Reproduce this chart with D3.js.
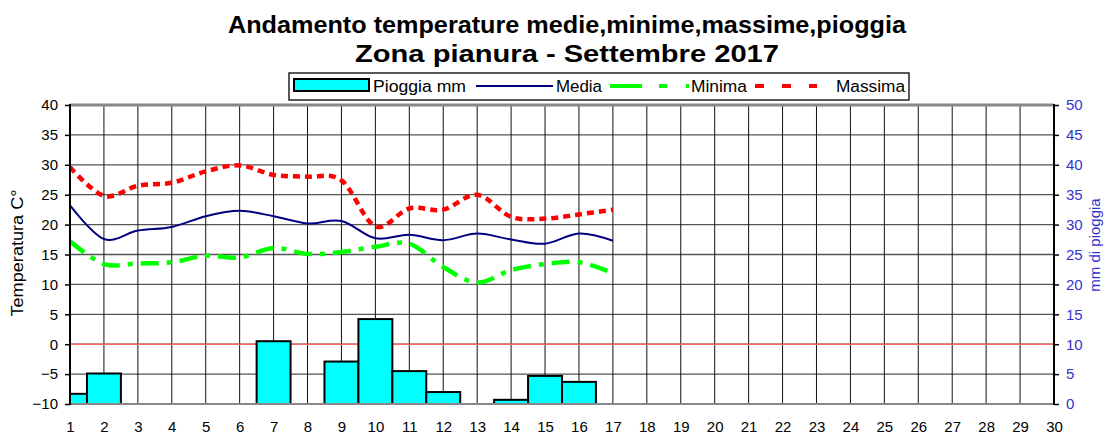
<!DOCTYPE html>
<html>
<head>
<meta charset="utf-8">
<script src="https://cdn.jsdelivr.net/npm/d3@7"></script>
<style>
body { margin: 0; background: #fff; }
svg { display: block; font-family: 'Liberation Sans', Arial, sans-serif; }
</style>
</head>
<body>
<svg id="chart" width="1104" height="435"></svg>
<script>
'use strict';

// days of the month (x categories)
var days = d3.range(1, 31);
var lineDays = d3.range(1, 18);

// temperatures, degrees C (days 1..17)
var media   = [23.2, 17.6, 19.0, 19.6, 21.4, 22.3, 21.4, 20.2, 20.6, 17.7, 18.3, 17.4, 18.5, 17.5, 16.8, 18.5, 17.3];
var minima  = [17.2, 13.4, 13.5, 13.7, 14.8, 14.5, 16.1, 15.1, 15.4, 16.3, 16.8, 12.9, 10.3, 12.4, 13.4, 13.7, 11.9];
var massima = [29.6, 24.8, 26.5, 27.0, 28.9, 29.9, 28.3, 28.0, 27.4, 19.7, 22.7, 22.5, 25.0, 21.3, 21.0, 21.7, 22.5];

// rain, mm
var rainDays = [1, 2, 7, 9, 10, 11, 12, 14, 15, 16];
var rainMm   = [1.7, 5.1, 10.5, 7.1, 14.2, 5.5, 2.0, 0.7, 4.7, 3.7];

// tick values
var tempTicks = d3.range(-10, 41, 5);
var rainTicks = d3.range(0, 51, 5);

var titleLines = ['Andamento temperature medie,minime,massime,pioggia', 'Zona pianura - Settembre 2017'];

var svg = d3.select('#chart');
var plot = {left: 70, right: 1054, top: 105, bottom: 404};

var x = d3.scaleLinear().domain([1, 30]).range([plot.left, plot.right]);
var y = d3.scaleLinear().domain([-10, 40]).range([plot.bottom, plot.top]);
var yR = d3.scaleLinear().domain([0, 50]).range([plot.bottom, plot.top]);
var half = (x(2) - x(1)) / 2;

svg.append('clipPath').attr('id', 'plot-clip')
	.append('rect')
		.attr('x', plot.left).attr('y', plot.top)
		.attr('width', plot.right - plot.left).attr('height', plot.bottom - plot.top);

// title
svg.selectAll('text.title')
	.data(titleLines)
	.enter().append('text')
		.attr('class', 'title')
		.attr('x', 567)
		.attr('y', function(d, i) { return 33 + i * 29; })
		.attr('text-anchor', 'middle')
		.attr('font-size', 24)
		.attr('font-weight', 'bold')
		.attr('textLength', function(d, i) { return i === 0 ? 678 : 424; })
		.attr('lengthAdjust', 'spacingAndGlyphs')
		.text(function(d) { return d; });

// horizontal grid
svg.append('g')
	.selectAll('line')
	.data(tempTicks.filter(function(t) { return t > -10 && t < 40; }))
	.enter().append('line')
		.attr('x1', plot.left).attr('x2', plot.right)
		.attr('y1', function(d) { return y(d); })
		.attr('y2', function(d) { return y(d); })
		.attr('stroke', '#555')
		.attr('stroke-width', 1.3);

// vertical grid
svg.append('g')
	.selectAll('line')
	.data(days.slice(1, -1))
	.enter().append('line')
		.attr('y1', plot.top).attr('y2', plot.bottom)
		.attr('x1', function(d) { return x(d); })
		.attr('x2', function(d) { return x(d); })
		.attr('stroke', '#111')
		.attr('stroke-width', 1);

// zero line
svg.append('line')
	.attr('x1', plot.left).attr('x2', plot.right)
	.attr('y1', y(0)).attr('y2', y(0))
	.attr('stroke', '#ff6b6b')
	.attr('stroke-width', 1.6);

// rain bars
svg.append('g')
	.attr('clip-path', 'url(#plot-clip)')
	.selectAll('rect')
	.data(rainDays)
	.enter().append('rect')
		.attr('x', function(d) { return x(d) - half; })
		.attr('width', half * 2)
		.attr('y', function(d, i) { return yR(rainMm[i]); })
		.attr('height', function(d, i) { return yR(0) - yR(rainMm[i]); })
		.attr('fill', '#00ffff')
		.attr('stroke', '#000')
		.attr('stroke-width', 2);

// plot frame
svg.append('line').attr('x1', plot.left).attr('x2', plot.right).attr('y1', plot.top).attr('y2', plot.top)
	.attr('stroke', '#888').attr('stroke-width', 3);
svg.append('line').attr('x1', plot.left).attr('x2', plot.right).attr('y1', plot.bottom).attr('y2', plot.bottom)
	.attr('stroke', '#888').attr('stroke-width', 2);

// temperature lines
var line = d3.line()
	.x(function(d, i) { return x(lineDays[i]); })
	.y(function(d) { return y(d); })
	.curve(d3.curveCatmullRom.alpha(0));

var series = [
	{values: minima, color: '#00ff00', width: 4.5, dash: '18,8,5,8'},
	{values: massima, color: '#ff0000', width: 4.5, dash: '7,5'},
	{values: media, color: '#000080', width: 2, dash: null}
];

svg.append('g')
	.attr('clip-path', 'url(#plot-clip)')
	.selectAll('path')
	.data(series)
	.enter().append('path')
		.attr('fill', 'none')
		.attr('stroke', function(d) { return d.color; })
		.attr('stroke-width', function(d) { return d.width; })
		.attr('stroke-dasharray', function(d) { return d.dash; })
		.attr('d', function(d) { return line(d.values); });

// axes
var axisLeft = svg.append('g')
	.attr('transform', 'translate(' + plot.left + ',0)')
	.call(d3.axisLeft(y).tickValues(tempTicks).tickSize(5).tickPadding(7));
var axisRight = svg.append('g')
	.attr('transform', 'translate(' + plot.right + ',0)')
	.call(d3.axisRight(yR).tickValues(rainTicks).tickSize(5).tickPadding(7));
var axisBottom = svg.append('g')
	.attr('transform', 'translate(0,' + plot.bottom + ')')
	.call(d3.axisBottom(x).tickValues(days).tickFormat(d3.format('d')).tickSize(0).tickPadding(17));

[axisLeft, axisRight, axisBottom].forEach(function(a) {
	a.attr('font-family', null).attr('font-size', 15);
	a.selectAll('.tick line').attr('stroke', '#000').attr('stroke-width', 1.5);
});
axisLeft.select('.domain').attr('stroke', '#000').attr('stroke-width', 2).attr('d', 'M0,' + (plot.top - 1) + 'V' + (plot.bottom + 1));
axisRight.select('.domain').attr('stroke', '#000').attr('stroke-width', 2).attr('d', 'M0,' + (plot.top - 1) + 'V' + (plot.bottom + 1));
axisBottom.select('.domain').remove();
axisLeft.selectAll('.tick text').attr('fill', '#000');
axisRight.selectAll('.tick text').attr('fill', '#3333cc');
axisBottom.selectAll('.tick text').attr('fill', '#000');

// axis titles
svg.append('text')
	.attr('transform', 'translate(23,253) rotate(-90)')
	.attr('text-anchor', 'middle')
	.attr('font-size', 16)
	.attr('textLength', 127)
	.attr('lengthAdjust', 'spacingAndGlyphs')
	.text('Temperatura C°');
svg.append('text')
	.attr('transform', 'translate(1100,245) rotate(-90)')
	.attr('text-anchor', 'middle')
	.attr('font-size', 15)
	.attr('fill', '#3333cc')
	.text('mm di pioggia');

// legend
var legend = svg.append('g');
legend.append('rect')
	.attr('x', 289).attr('y', 73).attr('width', 620).attr('height', 27)
	.attr('fill', '#fff').attr('stroke', '#000').attr('stroke-width', 1.3);
legend.append('rect')
	.attr('x', 294).attr('y', 79).attr('width', 75).attr('height', 12)
	.attr('fill', '#00ffff').attr('stroke', '#000').attr('stroke-width', 2);
legend.append('line')
	.attr('x1', 476).attr('x2', 553).attr('y1', 86).attr('y2', 86)
	.attr('stroke', '#000080').attr('stroke-width', 2);
legend.append('line')
	.attr('x1', 610).attr('x2', 689).attr('y1', 86).attr('y2', 86)
	.attr('stroke', '#00ff00').attr('stroke-width', 4).attr('stroke-dasharray', '32,17,8,19');
legend.append('line')
	.attr('x1', 755).attr('x2', 817).attr('y1', 86).attr('y2', 86)
	.attr('stroke', '#ff0000').attr('stroke-width', 4).attr('stroke-dasharray', '9,18');

var legendLabels = [
	{text: 'Pioggia mm', x: 373, len: 93},
	{text: 'Media', x: 556, len: 46},
	{text: 'Minima', x: 691, len: 56},
	{text: 'Massima', x: 836, len: 69}
];
legend.selectAll('text')
	.data(legendLabels)
	.enter().append('text')
		.attr('x', function(d) { return d.x; })
		.attr('y', 92)
		.attr('font-size', 16)
		.attr('textLength', function(d) { return d.len; })
		.attr('lengthAdjust', 'spacingAndGlyphs')
		.text(function(d) { return d.text; });
</script>
</body>
</html>
